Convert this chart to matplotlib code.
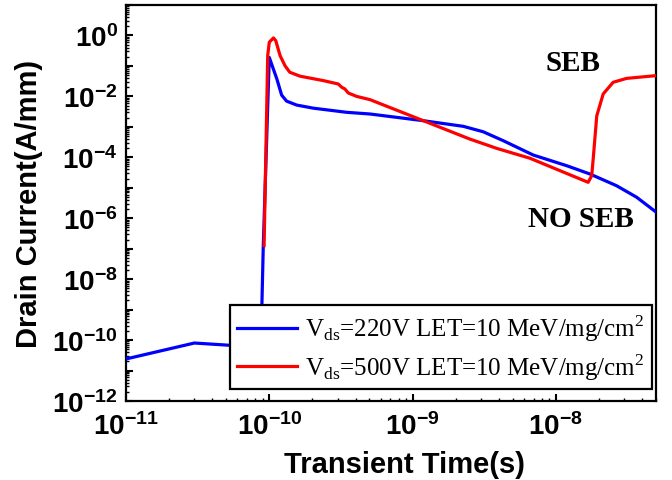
import numpy as np
import matplotlib
matplotlib.use("Agg")
import matplotlib.pyplot as plt
from matplotlib.ticker import LogLocator, NullFormatter

# ---- data ----
t_220 = [1e-11, 3e-11, 6e-11, 8.75e-11, 9.08e-11, 1.0e-10, 1.13e-10, 1.22e-10,
         1.32e-10, 1.55e-10, 2.03e-10, 3.47e-10, 5.05e-10, 1.19e-9, 2.26e-9,
         3.11e-9, 4.3e-9, 6.95e-9, 1.19e-8, 1.73e-8, 2.65e-8, 3.66e-8, 5.0e-8]
i_220 = [2.4e-11, 8e-11, 6.5e-11, 7e-11, 1.26e-7, 0.19, 0.037, 0.011,
         7e-3, 5.2e-3, 4.1e-3, 3.0e-3, 2.64e-3, 1.59e-3, 1.04e-3,
         6.9e-4, 3.5e-4, 1.19e-4, 5.3e-5, 2.83e-5, 1.17e-5, 4.9e-6, 1.6e-6]

t_500 = [9.2e-11, 9.75e-11, 1.0e-10, 1.07e-10, 1.11e-10, 1.19e-10, 1.29e-10,
         1.39e-10, 1.64e-10, 2.38e-10, 3.03e-10, 3.2e-10, 3.37e-10, 3.56e-10,
         4.07e-10, 5.05e-10, 1.19e-9, 2.5e-9, 3.86e-9, 6.6e-9, 1.68e-8,
         1.78e-8, 1.83e-8, 1.93e-8, 2.14e-8, 2.51e-8, 3.12e-8, 5.0e-8]
i_500 = [1.26e-7, 0.217, 0.6, 0.83, 0.67, 0.217, 0.10,
         0.062, 0.046, 0.033, 0.0255, 0.02, 0.0175, 0.0129,
         0.01, 7.8e-3, 1.59e-3, 4.0e-4, 1.97e-4, 9.3e-5, 1.51e-5,
         2.5e-5, 1.12e-4, 2.3e-3, 0.012, 0.029, 0.039, 0.048]

labels = ["V$_{\\mathregular{ds}}$=220V LET=10 MeV/mg/cm$^{\\mathregular{2}}$",
          "V$_{\\mathregular{ds}}$=500V LET=10 MeV/mg/cm$^{\\mathregular{2}}$"]
colors = ["#0000ff", "#ff0000"]

xticks = [1e-11, 1e-10, 1e-9, 1e-8]
xticklabels = [r"$\mathregular{10^{-11}}$", r"$\mathregular{10^{-10}}$",
               r"$\mathregular{10^{-9}}$", r"$\mathregular{10^{-8}}$"]
yexp = list(range(-12, 2))
yticks = [10.0 ** e for e in yexp]
yticklabels = [(r"$\mathregular{10^{%d}}$" % e) if e % 2 == 0 and e <= 0 else "" for e in yexp]

# ---- figure ----
fig = plt.figure(figsize=(6.72, 4.81), dpi=100)
ax = fig.add_axes([126/672, 79/481, 530/672, 396/481])

ax.plot(t_220, i_220, color=colors[0], lw=2.3, solid_joinstyle="round", label=labels[0], zorder=3)
ax.plot(t_500, i_500, color=colors[1], lw=2.3, solid_joinstyle="round", label=labels[1], zorder=4)

ax.set_xscale("log")
ax.set_yscale("log")
ax.set_xlim(1e-11, 5e-8)
ax.set_ylim(1e-12, 1e1)

sans = {"family": "Liberation Sans", "weight": "bold"}
ax.set_xticks(xticks, xticklabels)
ax.set_yticks(yticks, yticklabels)
ax.xaxis.set_minor_locator(LogLocator(base=10, subs=np.arange(2, 10), numticks=20))
ax.yaxis.set_minor_locator(LogLocator(base=10, subs=np.arange(2, 10), numticks=30))
ax.xaxis.set_minor_formatter(NullFormatter())
ax.yaxis.set_minor_formatter(NullFormatter())
ax.tick_params(which="major", direction="in", length=5, width=1.5, labelsize=20)
ax.tick_params(axis="x", which="major", pad=8)
ax.tick_params(axis="y", which="major", pad=6)
ax.tick_params(which="minor", direction="in", length=2.5, width=1.0)
for lab in ax.get_xticklabels() + ax.get_yticklabels():
    lab.set_fontfamily("Liberation Sans")
    lab.set_fontweight("bold")

for s in ax.spines.values():
    s.set_linewidth(1.6)

ax.set_xlabel("Transient Time(s)", fontsize=21, fontdict=sans)
ax.set_ylabel("Drain Current(A/mm)", fontsize=21, fontdict=sans)
ax.xaxis.set_label_coords(0.525, -0.125)
ax.yaxis.set_label_coords(-0.157, 0.5)

serif = {"family": "Liberation Serif", "weight": "bold"}
ax.text(0.843, 0.854, "SEB", fontsize=21, fontdict=serif, ha="center", va="center",
        transform=ax.transAxes)
ax.text(0.858, 0.46, "NO SEB", fontsize=21, fontdict=serif, ha="center", va="center",
        transform=ax.transAxes)

leg = ax.legend(loc="lower right", bbox_to_anchor=(0.992, 0.03), borderaxespad=0,
                prop={"family": "Liberation Serif", "size": 18}, frameon=True,
                fancybox=False, edgecolor="black", framealpha=1,
                handlelength=2.4, handletextpad=0.3, labelspacing=0.3,
                borderpad=0.3)
leg.get_frame().set_linewidth(1.6)
leg.set_zorder(10)

fig.savefig("out.png", dpi=100)
